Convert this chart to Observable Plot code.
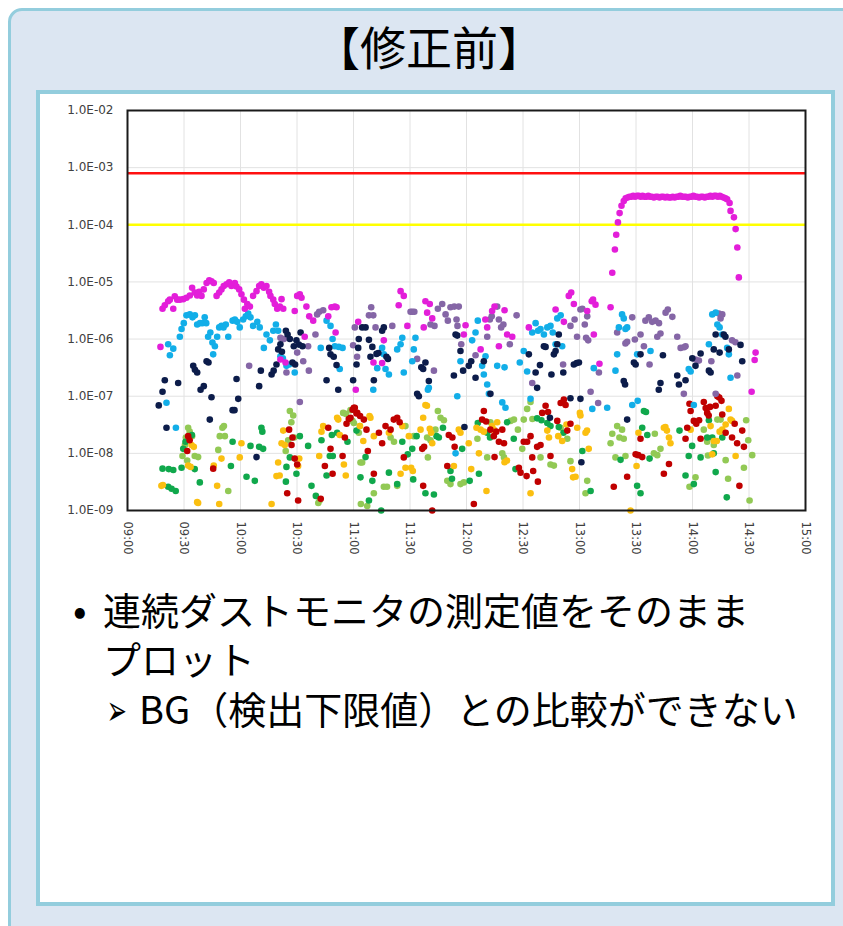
<!DOCTYPE html>
<html><head><meta charset="utf-8">
<script src="https://cdn.jsdelivr.net/npm/d3@7"></script>
<script src="https://cdn.jsdelivr.net/npm/@observablehq/plot@0.6"></script>
<style>
html,body{margin:0;padding:0;}
body{width:843px;height:926px;overflow:hidden;background:#fff;position:relative;font-family:"Noto Sans CJK JP","Noto Sans",sans-serif;color:#000;}
#outer{position:absolute;left:8px;top:8px;width:920px;height:980px;background:#dce6f2;border:3px solid #93cddd;border-radius:14px;box-sizing:border-box;}
#title{position:absolute;left:8px;width:842px;top:22px;text-align:center;font-size:46px;line-height:46px;white-space:nowrap;}
#inner{position:absolute;left:36px;top:90px;width:799px;height:816px;background:#fff;border:4px solid #93cddd;box-sizing:border-box;}
#chart{position:absolute;left:40px;top:95px;}
.line{position:absolute;font-size:38px;line-height:49px;white-space:pre;}
#bullet{position:absolute;left:73px;top:584px;font-size:40px;line-height:49px;}
#arrow{position:absolute;left:100px;top:687px;font-family:"DejaVu Sans";font-size:40px;line-height:46px;transform:scale(0.6,1.05);transform-origin:50% 50%;}
</style>
</head><body>
<div id="outer"></div>
<div id="title">【修正前】</div>
<div id="inner"></div>
<div id="chart"></div>
<div id="bullet">•</div>
<div class="line" style="left:103px;top:584px;">連続ダストモニタの測定値をそのまま
プロット</div>
<div id="arrow">➢</div>
<div class="line" style="left:139px;top:683px;">BG（検出下限値）との比較ができない</div>
<script>
// time = minutes after 09:00, value = measured concentration
const magenta = [[17.5,7.3e-7],[18.6,3.4e-6],[19.8,3.9e-6],[21.6,4.6e-6],[22.5,4.9e-6],[24.3,3.4e-6],[25.1,5.6e-6],[26.4,4.9e-6],[27.8,4.9e-6],[29.6,5.0e-6],[31.3,5.3e-6],[33.1,5.8e-6],[34.3,7.9e-6],[35.7,6.5e-6],[37,5.8e-6],[38,6.7e-6],[39.3,5.7e-6],[40.5,7.4e-6],[42,9.6e-6],[43.4,1.07e-5],[44.6,1.03e-5],[45.8,9.6e-6],[47.3,5.7e-6],[48.7,6.5e-6],[49.9,7.4e-6],[51.1,8.5e-6],[52.6,9.1e-6],[54,9.9e-6],[55.2,8.5e-6],[57,9.6e-6],[57.9,8.3e-6],[59.3,7.4e-6],[60.5,6.1e-6],[61.8,4.9e-6],[62.3,3.4e-6],[63.6,4.1e-6],[65,3.7e-6],[66.7,5.7e-6],[68.5,6.9e-6],[69.9,8.5e-6],[71.1,9.1e-6],[72.4,7.9e-6],[73.8,8.5e-6],[75.2,6.7e-6],[75.9,5.7e-6],[77.4,4.9e-6],[78.2,4.1e-6],[79.5,3.4e-6],[80.9,3.7e-6],[81.2,4.4e-7],[81.8,5.0e-6],[82.7,3.4e-6],[83.9,3.9e-7],[88.8,3.1e-6],[90.1,5.7e-6],[91.5,6.1e-6],[92.4,5.3e-6],[94.1,1.1e-6],[95,3.7e-6],[96.5,2.5e-6],[98.6,2.1e-6],[106.6,2.5e-6],[108.3,3.6e-6],[110.1,3.7e-6],[110.5,1.3e-6],[111,3.6e-6],[121.2,1.3e-7],[122.5,2.0e-6],[130.6,3.9e-7],[135.2,3.8e-7],[136.1,9.5e-7],[144,3.9e-6],[145,6.9e-6],[146.7,5.7e-6],[148.6,1.7e-6],[157.3,1.6e-6],[158.2,4.6e-6],[159.1,2.9e-6],[160.5,4.1e-6],[161.8,2.3e-6],[178.6,1.2e-6],[179.5,1.75e-6],[187.5,6.6e-7],[190,2.2e-6],[191,1.6e-6],[193.6,3.1e-6],[194.9,3.7e-6],[197.2,7.5e-7],[200.2,3.2e-6],[201.6,1.2e-6],[204.3,1.1e-6],[213.1,1.6e-6],[227.3,3.3e-6],[231.7,2.0e-6],[234.3,5.7e-6],[235.6,6.5e-6],[237,4.1e-6],[244.1,3.1e-6],[246.5,4.6e-6],[247.2,4.9e-6],[247.6,1.2e-6],[248.5,4.0e-6],[250.6,3.7e-7],[256.5,3.6e-6],
[257.4,1.45e-5],[258.8,3.7e-5],[259.5,6.7e-5],[260.4,1.1e-4],[261.3,1.6e-4],[262.3,2.15e-4],[263.5,2.6e-4],[264.5,2.9e-4],
[265.5,3.0e-4],[266.5,3.1e-4],[267.5,3.1e-4],[268.5,3.2e-4],[269.5,3.1e-4],[270.5,3.2e-4],[271.5,3.2e-4],[272.5,3.1e-4],[273.5,3.2e-4],[274.5,3.1e-4],[275.5,3.1e-4],[276.5,3.2e-4],[277.5,3.1e-4],[278.5,3.1e-4],[279.5,3.0e-4],[280.5,3.1e-4],[281.5,3.1e-4],[282.5,3.0e-4],[283.5,3.1e-4],[284.5,3.1e-4],[285.5,3.0e-4],[286.5,3.1e-4],[287.5,3.0e-4],[288.5,3.0e-4],[289.5,3.1e-4],[290.5,3.0e-4],[291.5,3.1e-4],[292.5,3.1e-4],[293.5,3.2e-4],[294.5,3.1e-4],[295.5,3.1e-4],[296.5,3.1e-4],[297.5,3.0e-4],[298.5,3.1e-4],[299.5,3.1e-4],[300.5,3.2e-4],[301.5,3.1e-4],[302.5,3.1e-4],[303.5,3.0e-4],[304.5,3.1e-4],[305.5,3.1e-4],[306.5,3.0e-4],[307.5,3.1e-4],[308.5,3.1e-4],[309.5,3.2e-4],[310.5,3.1e-4],[311.5,3.2e-4],[312.5,3.2e-4],[313.5,3.1e-4],[314.5,3.2e-4],[315.5,3.1e-4],[316.5,3.0e-4],[317.5,2.9e-4],
[318.4,2.8e-4],[319.7,2.4e-4],[320.2,1.75e-4],[322,1.35e-4],[322.9,8.4e-5],[323.8,4.0e-5],[324.6,1.2e-5],[331.4,1.2e-7],[333,4.3e-7],[333.5,5.8e-7]];

const cyan = [[20.7,7.7e-8],[21.6,8.1e-7],[22.5,5.2e-7],[24.3,6.8e-7],[25.7,2.8e-8],[27.8,1.1e-6],[28.7,1.5e-6],[29.9,1.9e-6],[31.3,2.6e-6],[33.1,2.7e-6],[34.5,2.4e-6],[35.8,2.6e-6],[37,1.8e-6],[38.5,1.9e-6],[39.8,1.9e-6],[41,2.4e-6],[41.8,1.9e-6],[42.8,1.1e-6],[44,1.3e-6],[45.1,8.7e-7],[45.5,5.4e-7],[46.4,7.5e-7],[47.6,1.1e-6],[48.7,1.6e-6],[49.9,1.7e-6],[51,1.6e-6],[52.2,1.8e-6],[53.5,1.1e-6],[55.8,2.1e-6],[57,2.2e-6],[58.2,2.0e-6],[59.6,1.6e-6],[61.4,2.2e-6],[62.8,2.5e-6],[64.1,2.8e-6],[65.3,2.4e-6],[66.7,1.7e-6],[68.9,2.0e-6],[70.2,1.6e-6],[72.4,7.0e-7],[73.8,1.2e-6],[75.6,9.5e-7],[77.4,1.4e-6],[78.8,1.8e-6],[80,1.4e-6],[81.2,5.0e-7],[82.5,4.6e-7],[84.4,3.4e-7],[85.8,3.6e-7],[88.8,2.6e-7],[102.6,7.0e-7],[105.7,2.1e-6],[107.8,1.7e-6],[108.9,1.0e-6],[110.1,7.5e-7],[112.2,7.3e-7],[112.7,3.0e-7],[114.2,7.0e-7],[130.5,1.3e-7],[132.6,3.1e-7],[135.2,7.0e-7],[136.1,5.4e-7],[137,3.0e-7],[138.8,2.4e-7],[143.2,6.6e-7],[145,8.1e-7],[145.9,1.05e-6],[146.7,2.6e-7],[151.2,4.1e-7],[152,6.6e-7],[152.9,1.05e-6],[159.5,1.3e-7],[160,1.4e-7],[174.2,1.0e-8],[175.1,1.0e-7],[176.8,4.1e-7],[183,9.5e-7],[184.8,1.3e-6],[186,2.1e-6],[188.3,3.4e-7],[189.2,2.4e-7],[190.1,5.0e-7],[191,1.6e-7],[191.9,1.1e-7],[196.3,3.4e-7],[199,7.8e-8],[200.2,3.2e-7],[200.7,6.3e-8],[208.3,3.9e-7],[210.4,6.2e-7],[212.2,2.7e-7],[214,9.0e-8],[214.9,1.3e-6],[216.7,1.9e-6],[218,1.4e-6],[219.3,1.5e-6],[221.1,1.2e-6],[222.9,1.6e-6],[224.6,1.7e-6],[225.8,1.3e-6],[227.3,8.1e-7],[228.2,2.3e-6],[230,2.6e-6],[230.8,7.5e-7],[246.8,6.0e-8],[247.6,3.1e-7],[254.7,6.3e-8],[259.1,2.8e-7],[260,5.4e-7],[260.9,1.6e-6],[262.6,2.7e-6],[263.5,2.3e-6],[264.4,1.5e-6],[265.3,1.6e-6],[268,7.0e-8],[270.6,5.4e-7],[270.9,8.3e-8],[277.7,6.2e-7],[298,3.0e-7],[299,2.7e-7],[300.7,7.0e-8],[308.7,8.1e-7],[310.5,2.7e-6],[312.3,2.9e-6],[313.2,1.8e-6],[314.4,1.6e-6],[315.8,1.2e-6],[318.4,7.0e-7],[319.3,5.4e-7],[320.2,2.1e-7]];

const navy = [[16.6,6.9e-8],[18.6,1.2e-7],[19.8,1.9e-7],[20.7,2.8e-8],[26.9,1.7e-7],[34.9,3.4e-7],[35.8,2.9e-7],[37,2.6e-7],[38.8,1.3e-7],[40.5,1.5e-7],[42,4.1e-7],[43,3.9e-7],[43.7,3.9e-8],[44.6,9.6e-8],[55.8,5.7e-8],[56.8,5.7e-8],[57.9,2.0e-7],[58.8,9.0e-8],[68.5,8.6e-9],[69.9,1.5e-7],[70.8,2.8e-7],[76.5,2.4e-7],[77.6,2.8e-7],[79.1,3.6e-7],[80,6.6e-7],[81.2,8.1e-7],[82,6.0e-7],[84.1,1.4e-6],[85,1.2e-6],[86.2,1.0e-6],[87.6,3.9e-7],[88.3,7.5e-7],[89,3.6e-7],[89.7,9.5e-7],[91,8.0e-7],[91.9,1.3e-6],[92.9,7.5e-7],[105.7,1.9e-7],[107.1,7.0e-7],[107.8,5.4e-7],[109.5,4.9e-7],[111,3.5e-7],[111.9,1.3e-7],[119.8,1.9e-7],[121.6,3.6e-7],[122.5,7.0e-7],[122.8,1.0e-6],[124.6,1.6e-6],[126.4,1.6e-6],[128.2,9.7e-7],[129,4.9e-7],[130,7.3e-7],[130.8,1.9e-7],[132.2,5.5e-7],[133.2,5.7e-7],[135.2,1.4e-6],[136.1,1.6e-6],[137.5,4.9e-7],[138.3,4.5e-7],[153.8,1.1e-7],[154.7,1.0e-7],[156,3.2e-7],[157,3.0e-7],[158.2,3.9e-7],[160,1.85e-7],[173.3,2.3e-7],[174.2,1.2e-6],[175.1,1.15e-6],[176.8,6.2e-7],[178.2,2.8e-7],[178.9,2.9e-8],[181.2,3.4e-7],[182.5,4.1e-7],[184.8,2.1e-7],[189.2,4.1e-7],[192.7,1.1e-7],[213.1,5.4e-7],[216.7,2.6e-7],[217.5,1.4e-7],[219,3.5e-7],[221.1,7.5e-7],[222,7.3e-7],[224.3,4.2e-8],[225.1,2.4e-7],[226.4,5.4e-7],[227.3,6.2e-7],[228.2,8.1e-7],[229,1.2e-6],[231.4,2.6e-7],[235.2,9.2e-8],[237,3.6e-7],[238.5,3.8e-7],[239.7,3.9e-7],[240.5,9.0e-8],[241,7.0e-9],[263.5,1.85e-7],[264.2,1.6e-7],[265.3,3.9e-8],[268.9,3.9e-7],[269.8,3.6e-7],[272.4,5.4e-7],[282.1,1.3e-7],[283,1.7e-7],[284.3,5.2e-7],[291.9,2.3e-7],[292.8,1.6e-7],[296.3,1.9e-7],[299.9,4.6e-7],[301.6,3.4e-7],[304.3,5.6e-7],[308.7,2.8e-7],[309.6,2.6e-7],[311.3,6.6e-7],[312.3,1.2e-6],[314.4,5.8e-7],[316.6,1.2e-6],[317.5,1.1e-6],[319.3,6.6e-7],[325.5,7.9e-7],[326.4,4.1e-7]];

const purple = [[64.6,3.4e-7],[81.2,1.05e-6],[83,1.0e-6],[84.4,2.6e-7],[90.1,5.8e-7],[91.5,7.9e-8],[93.3,4.1e-7],[95.9,7.5e-7],[96.3,2.8e-7],[99.8,1.2e-6],[100.7,2.7e-6],[101.8,3.0e-6],[103.9,3.2e-6],[119.8,7.8e-7],[120.7,1.6e-6],[121.9,4.9e-7],[128.2,2.6e-6],[129.4,3.6e-6],[130.5,2.6e-6],[131.7,1.6e-6],[140.6,1.7e-6],[150.3,3.0e-6],[151.2,3.0e-6],[152.3,3.0e-6],[153.8,4.5e-7],[160.9,1.8e-6],[162.7,2.8e-7],[163,1.7e-6],[164.8,3.4e-6],[167.1,4.1e-6],[168.9,2.7e-6],[170.1,2.1e-6],[171.5,3.6e-6],[173.5,3.7e-6],[174.7,2.2e-6],[175.2,1.7e-6],[175.9,3.7e-6],[177.2,8.1e-7],[184.8,5.2e-7],[191,1.1e-6],[192.4,2.2e-6],[193.4,2.5e-6],[196.3,3.7e-6],[197.2,2.2e-6],[198.4,1.6e-6],[199.6,1.8e-6],[203,8.1e-7],[206.6,2.6e-6],[214.9,1.7e-7],[231.3,3.6e-7],[235.2,1.7e-6],[237.4,2.2e-6],[238.7,1.1e-6],[240.5,3.3e-6],[241.5,3.4e-6],[242.8,1.8e-6],[243.5,1.05e-6],[244.1,2.5e-6],[244.6,9.5e-7],[245.9,1.2e-7],[249.9,7.6e-8],[250.3,2.6e-7],[260,1.3e-6],[264.4,8.4e-7],[265.3,9.0e-7],[268,2.4e-6],[269.4,9.8e-7],[272.4,1.2e-6],[274.2,7.5e-7],[275,2.1e-6],[276.8,2.4e-6],[277.2,3.6e-7],[278.6,2.0e-6],[280.4,2.1e-6],[281.3,1.1e-6],[282.2,1.9e-6],[283,1.25e-6],[285.7,2.9e-6],[286.9,3.3e-6],[289.3,2.45e-6],[291.9,1.1e-6],[293.7,7.0e-7],[295.4,1.1e-7],[295.5,7.2e-7],[296.3,7.5e-7],[301.6,4.4e-7],[303.4,4.2e-7],[310,4.1e-7],[312.3,1.1e-7],[314,2.8e-6],[314.9,2.3e-6],[315.8,2.7e-6],[321,9.5e-7],[322.8,8.8e-7],[323.8,2.3e-7]];

const red = [[31.7,1.1e-8],[32.2,2.0e-8],[33,1.7e-8],[45.5,5.4e-9],[84.8,2.0e-9],[85.8,2.6e-8],[87.1,1.4e-8],[87.6,1.9e-8],[88.8,8.1e-9],[90.1,6.4e-9],[90.6,1.5e-9],[102.6,1.6e-9],[104.8,6.0e-9],[106.6,2.8e-8],[107.8,1.2e-8],[108.9,4.4e-9],[114.2,9.0e-9],[115.4,1.9e-8],[116.3,3.3e-8],[117.5,4.0e-8],[118.4,4.2e-8],[119.5,5.8e-8],[120.2,6.3e-8],[120.7,6.3e-8],[121.6,5.0e-8],[122,5.1e-8],[123.5,4.5e-8],[125.5,3.9e-8],[126.9,2.6e-8],[127.6,1.1e-8],[130.8,4.4e-9],[133.5,2.3e-8],[135.2,1.5e-8],[137,3.0e-8],[139.7,2.6e-8],[141.4,3.9e-8],[143.2,4.2e-8],[144.5,3.5e-8],[146.7,8.5e-9],[156.5,1.2e-8],[157,2.7e-9],[157.5,1.3e-8],[161.8,1.0e-9],[169.8,6.0e-9],[170.6,2.1e-8],[172.5,1.9e-8],[173.7,1.3e-8],[183.9,1.3e-9],[188.3,3.9e-8],[189.2,5.5e-8],[190.4,3.6e-8],[192.7,2.6e-8],[194.5,2.0e-8],[194.9,8.6e-9],[195.8,2.4e-8],[197.2,1.6e-8],[199,2.6e-8],[199.9,1.5e-8],[207.8,5.6e-9],[208.7,4.6e-9],[210.4,1.6e-8],[211.9,4.0e-9],[212.2,1.6e-8],[214,2.0e-8],[214.9,8.5e-9],[215.4,4.9e-9],[217.5,1.3e-8],[217.9,3.2e-9],[219.3,1.4e-8],[220.2,5.1e-8],[222,6.8e-8],[223.3,5.3e-8],[224.6,9.0e-9],[228.2,3.7e-8],[230,7.6e-8],[231.7,8.7e-8],[232.6,7.0e-8],[233.5,2.5e-8],[235.2,3.3e-8],[258.2,2.6e-9],[265.3,3.9e-9],[269.8,9.6e-9],[271.2,9.3e-9],[272.4,1.8e-8],[273.3,8.6e-9],[284.8,4.4e-9],[287.5,6.5e-9],[296.3,1.8e-8],[297.2,2.8e-8],[298.4,7.4e-8],[299,5.5e-8],[300.7,3.7e-8],[302,3.3e-8],[303.5,3.8e-8],[304.3,1.8e-8],[306,7.9e-8],[307,6.2e-8],[307.8,5.1e-8],[308.6,4.6e-8],[309.3,6.5e-8],[312.3,6.8e-8],[313.2,1.0e-7],[314.2,9.5e-8],[315.4,8.3e-8],[315.8,4.8e-8],[317.6,2.3e-8],[321,1.9e-8],[322.4,3.3e-8],[323.7,1.5e-8],[324.9,2.7e-9],[326.4,2.5e-8],[327.3,1.3e-8]];

const orange = [[18,2.7e-9],[18.8,2.8e-9],[32.2,6.1e-9],[33.5,5.8e-9],[34,1.4e-8],[35.2,1.3e-8],[37,1.4e-9],[37.5,1.35e-9],[45.8,6.1e-9],[47.6,2.7e-9],[48.7,1.3e-9],[49.9,8.1e-9],[59.6,8.5e-9],[60.5,1.5e-8],[76.5,1.3e-9],[79.1,4.0e-9],[80,6.9e-9],[80.8,4.1e-9],[81.8,1.5e-8],[82.7,2.5e-8],[83.5,1.4e-8],[90.6,6.0e-9],[91.2,8.1e-9],[101.8,9.0e-9],[103,2.4e-8],[103.9,3.0e-8],[111.3,4.2e-8],[111.9,3.9e-8],[112.7,2.1e-8],[114.9,6.4e-9],[115.9,4.1e-9],[123.4,3.0e-8],[125.2,1.65e-8],[128.5,4.5e-8],[129,4.2e-8],[130.8,2.0e-8],[138.8,2.3e-8],[145,4.4e-9],[145.9,3.0e-8],[147.6,5.6e-9],[149.4,2.0e-8],[150.6,5.6e-9],[151.5,4.9e-9],[155.6,2.6e-8],[157,4.2e-8],[158.2,7.0e-8],[159,6.8e-8],[160.5,2.7e-8],[161.2,2.3e-8],[161.8,1.5e-8],[173.3,6.0e-9],[175.9,2.6e-8],[176.8,2.3e-8],[181.2,1.5e-8],[182.5,5.3e-9],[185.3,2.8e-8],[186.6,1.0e-8],[187.5,2.6e-8],[189.2,2.4e-8],[190.6,2.2e-9],[193.6,3.0e-8],[194.5,2.6e-8],[196.3,3.5e-8],[200.2,7.0e-9],[201.5,7.5e-9],[214,2.0e-9],[222.9,2.5e-8],[223.8,1.9e-8],[228.7,2.0e-8],[230.8,1.65e-8],[233.1,3.2e-8],[236.1,5.3e-9],[236.6,3.8e-9],[237.9,3.9e-9],[238.8,2.8e-8],[240.2,5.1e-8],[240.5,4.6e-8],[243.2,2.3e-8],[244,2.5e-8],[244.9,1.2e-8],[267.1,1.0e-9],[270.3,6.0e-9],[271.3,2.3e-8],[284.8,2.8e-8],[285.6,2.9e-8],[286.4,2.5e-8],[287.5,1.9e-8],[288.3,1.5e-8],[299,2.6e-8],[309.6,3.0e-8],[310.5,9.6e-9],[311.3,1.65e-8],[312.9,1.65e-8],[314.4,2.4e-8],[315.8,2.6e-8],[317.6,3.2e-8],[319.3,6.0e-8],[320.2,3.9e-8],[321,3.7e-8],[322.9,9.0e-9]];

const lightGreen = [[29.2,9.0e-9],[30.5,1.4e-8],[31,1.9e-8],[31.7,7.5e-9],[32.2,2.8e-8],[33,2.4e-8],[34.3,2.0e-8],[35.7,9.0e-9],[37.5,8.6e-9],[48.2,1.15e-8],[49,2.0e-8],[50.4,2.8e-8],[51.2,3.0e-8],[51.7,2.0e-8],[53.5,2.2e-9],[84,1.1e-8],[85.3,1.7e-8],[86.2,5.5e-8],[87,3.5e-8],[88,4.6e-8],[88.5,1.9e-8],[101.3,1.35e-9],[102,1.5e-9],[114.5,5.1e-8],[116,4.9e-8],[118.4,5.7e-8],[119.5,3.7e-8],[120.2,3.4e-8],[122.8,2.3e-8],[123.4,3.0e-8],[123.7,6.9e-9],[123.9,1.3e-9],[124.6,6.9e-9],[127.3,1.2e-9],[130.8,2.0e-9],[136.1,2.6e-9],[137.8,2.6e-9],[139.7,1.9e-8],[141.5,1.6e-8],[143.2,2.7e-9],[147.6,3.0e-8],[152,2.0e-8],[159.1,1.9e-8],[159.5,8.5e-9],[160.9,1.7e-8],[163.5,2.6e-8],[164.8,5.5e-8],[166.2,4.2e-8],[168,3.8e-8],[169.8,3.3e-9],[171.5,2.9e-9],[176.8,2.9e-9],[178.6,3.1e-9],[185.8,1.8e-8],[191,8.5e-9],[192.7,3.5e-8],[199,1.0e-8],[199.9,8.5e-9],[203.4,3.7e-8],[205.2,3.9e-8],[207.3,2.6e-8],[209.6,1.2e-8],[210.4,3.9e-8],[212.2,6.0e-8],[214,7.9e-8],[215,4.0e-8],[219.3,8.5e-9],[224.6,6.4e-9],[226.4,6.1e-9],[230,2.8e-8],[233.5,1.8e-8],[235.2,7.3e-9],[243.2,2.0e-9],[244.1,3.3e-9],[256.5,1.5e-8],[257.4,2.2e-8],[259.1,8.5e-9],[260,3.0e-8],[261.2,1.9e-8],[262.6,2.6e-8],[263.5,1.8e-8],[264.4,9.0e-9],[279.5,1.0e-8],[280,2.2e-8],[281.3,9.3e-9],[283,1.2e-8],[298.4,2.6e-9],[301.6,3.8e-9],[306,2.6e-8],[307.8,1.6e-8],[308.2,9.2e-9],[311.3,1.4e-8],[313.2,3.9e-8],[314.9,3.9e-8],[317.6,7.6e-9],[318.9,3.6e-9],[327.3,5.6e-9],[328.5,3.8e-8],[329.6,1.7e-8],[330.3,1.5e-9],[331.7,9.3e-9]];

const green = [[18.6,5.4e-9],[21.6,2.6e-9],[21.9,5.3e-9],[23.4,2.4e-9],[24.3,5.1e-9],[25.6,2.2e-9],[28.7,5.6e-9],[29.6,1.2e-8],[30.8,1.6e-8],[34.2,2.1e-8],[35.7,5.3e-9],[38.4,3.1e-9],[54.9,6.0e-9],[55.8,1.6e-8],[63.2,3.9e-9],[65.3,1.35e-8],[67.6,3.3e-9],[69.9,1.3e-8],[71.1,2.8e-8],[71.6,2.4e-8],[72,1.2e-8],[84.1,3.2e-9],[84.4,5.8e-9],[86.2,8.5e-9],[89.7,4.4e-9],[91.5,2.0e-8],[95.9,1.35e-8],[97.7,2.7e-9],[100,1.8e-9],[103,1.7e-8],[105.7,4.1e-9],[107.4,9.0e-9],[108.5,2.1e-8],[109,9.0e-9],[111.3,2.3e-8],[116.8,1.6e-8],[121.6,2.5e-8],[123.7,3.8e-9],[126.4,8.6e-9],[128.2,1.5e-9],[130,3.3e-9],[134.7,1.0e-9],[138.8,4.6e-9],[143.2,2.9e-9],[145.9,1.6e-8],[148.8,9.6e-9],[151.2,1.2e-8],[151.7,3.5e-9],[153.5,2.0e-8],[158.2,2.0e-9],[162.7,1.9e-9],[164.1,2.0e-8],[165.3,1.9e-8],[167.5,2.8e-8],[171.5,4.9e-9],[172.3,3.6e-9],[177.7,1.2e-8],[181.7,3.3e-9],[186,3.4e-8],[186.6,4.4e-9],[191,2.3e-8],[192.5,1.9e-8],[201.6,3.5e-8],[205.1,1.8e-8],[206,5.3e-9],[217.5,4.1e-8],[219.8,3.8e-8],[222.9,3.4e-8],[224.6,3.0e-8],[229,2.9e-8],[231.5,2.3e-8],[241.5,1.1e-8],[245.9,2.2e-9],[261.8,7.7e-9],[270.6,2.7e-9],[272.4,2.0e-9],[273.3,2.8e-8],[274.2,5.5e-8],[275.3,5.3e-8],[276,2.1e-8],[277.2,8.1e-9],[293.1,2.5e-8],[296.3,4.1e-9],[298,9.0e-9],[299.8,1.35e-8],[300.7,2.9e-9],[304.3,8.5e-9],[307.8,1.9e-8],[308.7,3.8e-8],[310.5,1.9e-8],[311.3,1.0e-8],[312.3,4.7e-9],[315.8,1.9e-8],[318.2,1.7e-9]];

const limitRed = 8e-4;
const limitYellow = 1e-4;
const xTickValues = [0,30,60,90,120,150,180,210,240,270,300,330,360];
const xTickLabels = ["09:00","09:30","10:00","10:30","11:00","11:30","12:00","12:30","13:00","13:30","14:00","14:30","15:00"];
const yTickValues = [1e-2,1e-3,1e-4,1e-5,1e-6,1e-7,1e-8,1e-9];
const yTickLabels = ["1.0E-02","1.0E-03","1.0E-04","1.0E-05","1.0E-06","1.0E-07","1.0E-08","1.0E-09"];

const seriesList = [
  {pts: lightGreen, color: "#92c955"},
  {pts: green, color: "#10a84c"},
  {pts: orange, color: "#fbbf10"},
  {pts: red, color: "#c00000"},
  {pts: purple, color: "#8566a6"},
  {pts: cyan, color: "#12aee8"},
  {pts: navy, color: "#0c1c4a"},
  {pts: magenta, color: "#e31ed9"}
];

const dotMarks = seriesList.map(s => Plot.dot(s.pts, {x: d => d[0], y: d => d[1], r: 3.3, fill: s.color, stroke: "none"}));

const chart = Plot.plot({
  width: 790, height: 470,
  marginLeft: 87, marginRight: 25, marginTop: 15, marginBottom: 55,
  style: {fontFamily: "DejaVu Sans, Verdana, sans-serif", color: "#404040", background: "transparent", overflow: "visible"},
  x: {domain: [0, 360]},
  y: {type: "log", domain: [1e-9, 1e-2]},
  marks: [
    Plot.ruleX(xTickValues, {x: d => d, stroke: "#e2e2e2", strokeWidth: 1}),
    Plot.ruleY(yTickValues, {y: d => d, stroke: "#e2e2e2", strokeWidth: 1}),
    Plot.ruleY([limitRed], {y: d => d, stroke: "#ff1010", strokeWidth: 2.5}),
    Plot.ruleY([limitYellow], {y: d => d, stroke: "#ffff00", strokeWidth: 2.5}),
    ...dotMarks,
    Plot.frame({stroke: "#1a1a1a", strokeWidth: 2}),
    Plot.axisX({ticks: xTickValues, tickFormat: d => xTickLabels[Math.round(d / 30)], tickRotate: 90, tickSize: 0, tickPadding: 11, fontSize: 11.5, label: null}),
    Plot.axisY({ticks: yTickValues, tickFormat: d => yTickLabels[Math.round(-Math.log10(d)) - 2], tickSize: 0, tickPadding: 14, fontSize: 12, label: null})
  ]
});
document.getElementById("chart").appendChild(chart);
</script>
</body></html>
